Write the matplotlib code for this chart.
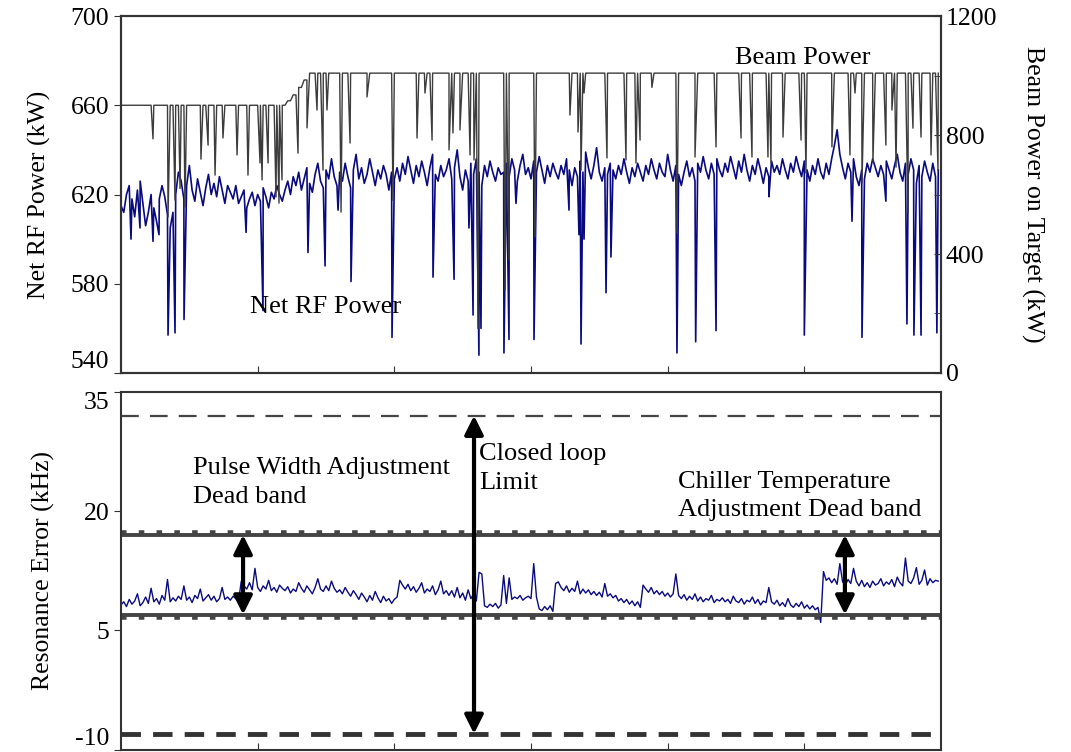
import numpy as np
import matplotlib
matplotlib.use('Agg')
import matplotlib.pyplot as plt

plt.rcParams['font.family'] = ['Liberation Serif', 'DejaVu Serif']
plt.rcParams['axes.unicode_minus'] = False

NAVY = '#0a0a80'
GREY = '#3c3c3c'
SPINE = '#333333'

# time grid (arbitrary units, 0.2 per sample)
t = np.arange(300) * 0.2

# net RF power baseline (kW), read row by row
rf_base = [
    615, 612, 620, 624, 618, 610, 622, 626, 616, 606, 612, 620, 614, 608, 618, 624, 619, 611, 605, 612,
    620, 630, 626, 618, 624, 633, 622, 617, 627, 621, 615, 623, 629, 620, 625, 619, 628, 622, 616, 624,
    621, 618, 624, 616, 619, 622, 614, 618, 621, 615, 620, 617, 623, 619, 614, 621, 618, 624, 620, 617,
    622, 626, 620, 628, 624, 630, 622, 627, 632, 625, 621, 629, 634, 626, 623, 631, 627, 636, 628, 624,
    630, 626, 634, 628, 623, 631, 638, 627, 632, 625, 629, 636, 630, 624, 631, 627, 633, 629, 622, 630,
    627, 632, 626, 634, 629, 637, 631, 625, 633, 628, 635, 630, 624, 632, 638, 629, 626, 633, 628, 631,
    636, 627, 632, 640, 628, 622, 631, 626, 634, 629, 636, 630, 624, 633, 628, 635, 630, 626, 632, 629,
    630, 634, 628, 636, 631, 626, 633, 638, 629, 632, 627, 635, 630, 637, 631, 625, 633, 628, 634, 630,
    627, 633, 629, 636, 631, 624, 632, 628, 635, 630, 639, 632, 627, 633, 641, 630, 626, 632, 629, 634,
    631, 627, 633, 629, 636, 630, 625, 632, 628, 634, 630, 626, 633, 629, 636, 631, 627, 634, 630, 628,
    638, 631, 626, 633, 629, 624, 630, 635, 628, 632, 626, 634, 630, 637, 631, 627, 634, 629, 636, 631,
    628, 634, 630, 637, 632, 627, 635, 630, 638, 631, 626, 633, 629, 636, 631, 625, 632, 628, 635, 630,
    633, 629, 636, 631, 627, 634, 630, 637, 632, 628, 635, 631, 626, 633, 629, 636, 630, 627, 634, 629,
    636, 642, 649, 638, 632, 627, 634, 630, 636, 628, 624, 631, 627, 634, 630, 636, 632, 628, 633, 629,
    635, 631, 627, 633, 638, 630, 626, 634, 629, 636, 631, 625, 633, 628, 635, 630, 626, 634, 628, 631,
]

# RF power drop-outs: time, value (kW)
rf_dip_t = [0.73, 1.39, 2.34, 2.78, 3.44, 3.95, 4.61, 9.15, 10.39, 13.68, 14.93, 15.88, 16.83,
            19.83, 22.83, 24.37, 25.46, 25.76, 26.19, 26.34, 28.02, 28.39, 28.9, 30.22, 32.78,
            33.51, 33.66, 33.88, 35.49, 35.85, 40.68, 42.05, 43.54, 47.41, 50.0, 53.49, 54.22,
            55.97, 57.51, 58.02, 58.54, 59.7]
rf_dip_v = [600, 605, 599, 602, 557, 558, 564, 603, 568, 594, 588, 613, 581,
            556, 583, 582, 605, 566, 548, 560, 549, 555, 616, 555, 613,
            602, 553, 600, 576, 592, 549, 554, 559, 619, 557, 608, 556,
            617, 562, 557, 557, 558]

# beam power on target: level changes and trips (kW)
beam_step_t = [0, 12.2, 12.6, 13.0, 13.4, 13.8]
beam_step_v = [900, 915, 935, 960, 985, 1008]
beam_dip_t = [2.34, 3.44, 3.95, 4.32, 4.68, 5.85, 6.37, 6.88, 7.46, 8.49, 9.29, 10.17, 10.32,
              10.76, 11.34, 11.56, 11.78, 12.95, 13.61, 14.34, 14.78, 15.07, 16.1, 16.76, 18.0,
              19.9, 21.66, 22.24, 22.76, 24.0, 24.29, 24.8, 25.54, 25.83, 26.12, 28.1, 28.39,
              30.29, 32.85, 33.44, 33.66, 33.88, 35.56, 36.95, 37.68, 37.98, 38.85, 40.68, 42.0,
              43.54, 45.37, 46.17, 47.34, 47.56, 48.44, 49.76, 50.12, 52.02, 53.34, 53.71, 54.22,
              55.02, 55.97, 56.41, 56.71, 57.59, 57.95, 58.54, 59.27, 59.78]
beam_dip_v = [787, 524, 581, 620, 558, 719, 766, 665, 790, 733, 665, 706, 649,
              706, 592, 571, 649, 739, 824, 884, 682, 884, 541, 773, 928,
              580, 790, 941, 783, 750, 807, 817, 733, 716, 150, 279, 380,
              457, 867, 810, 682, 941, 723, 716, 706, 783, 960, 471, 726,
              760, 790, 726, 726, 706, 793, 783, 672, 760, 733, 941, 639,
              709, 766, 884, 692, 538, 823, 793, 733, 682]

# resonance error (kHz)
res_err = [
    8.2, 8.6, 8.0, 8.9, 8.3, 8.7, 9.6, 8.1, 8.5, 9.2, 8.4, 10.3, 8.6, 9.0, 8.3, 9.4, 8.8, 11.4, 8.6, 9.1,
    8.7, 9.3, 8.9, 10.6, 8.8, 9.2, 8.5, 9.4, 9.0, 10.2, 8.7, 9.1, 9.5, 8.8, 9.3, 8.6, 9.0, 10.4, 8.9, 9.2,
    8.8, 9.3, 9.0, 8.7, 11.2, 10.6, 10.2, 11.0, 10.1, 12.8, 10.4, 9.9, 10.6, 10.2, 11.3, 10.0, 10.4, 9.8, 10.7, 10.3,
    10.0, 10.5, 9.7, 10.2, 9.9, 11.0, 10.3, 9.8, 10.6, 10.1, 9.6, 10.4, 11.5, 10.2, 9.9, 10.6, 10.0, 11.2, 10.3, 9.8,
    10.1, 9.6, 10.4, 9.8, 9.3, 10.0, 9.5, 8.9, 9.7, 9.2, 8.6, 9.4, 8.8, 9.9, 9.1, 8.5, 9.3, 8.7, 9.0, 8.4,
    8.9, 9.2, 11.3, 10.7, 10.2, 10.8, 10.0, 10.5, 9.8, 10.3, 11.0, 9.7, 10.2, 9.9, 10.6, 9.5, 10.1, 11.2, 9.6, 10.0,
    9.4, 10.0, 9.2, 10.4, 9.1, 9.7, 8.8, 10.1, 9.0, 9.6, 8.7, 12.3, 12.1, 8.1, 7.9, 8.3, 8.0, 8.4, 7.8, 8.2,
    11.9, 8.4, 11.6, 8.9, 9.2, 9.0, 9.4, 8.8, 9.1, 9.3, 9.0, 13.4, 9.2, 7.7, 7.5, 8.0, 7.6, 8.1, 7.4, 10.9,
    11.1, 10.4, 10.0, 10.6, 9.8, 10.3, 9.9, 11.2, 9.6, 10.2, 9.7, 10.1, 9.5, 9.9, 9.4, 9.8, 9.2, 10.9, 9.3, 9.6,
    9.1, 9.4, 8.7, 9.0, 8.5, 8.9, 8.3, 8.7, 8.1, 8.6, 7.9, 10.7, 10.2, 9.8, 10.4, 9.6, 10.0, 9.5, 9.9, 9.3,
    9.7, 9.2, 9.6, 12.1, 9.4, 9.0, 9.5, 8.8, 9.3, 8.9, 9.6, 8.7, 9.2, 8.6, 9.0, 8.8, 9.4, 8.5, 8.9, 8.7,
    9.1, 8.6, 8.9, 8.4, 9.3, 8.7, 8.5, 9.0, 8.3, 8.8, 8.6, 9.2, 8.4, 8.9, 8.2, 8.7, 8.5, 10.4, 8.6, 8.3,
    8.8, 8.1, 8.5, 8.0, 9.0, 8.2, 7.9, 8.4, 8.0, 8.6, 7.8, 8.2, 7.7, 8.1, 7.6, 7.9, 6.0, 12.4, 11.3, 11.6,
    11.0, 11.5, 10.8, 13.4, 11.1, 10.7, 11.4, 10.9, 12.8, 11.2, 10.6, 11.3, 10.5, 11.0, 10.4, 11.2, 10.7, 10.9, 11.5, 10.6,
    11.1, 10.8, 11.4, 10.5, 11.7, 11.0, 10.6, 14.1, 11.2, 10.9, 11.6, 12.9, 10.8, 11.3, 12.6, 10.7, 11.5, 11.0, 11.3, 11.2,
]

# control limits (kHz)
loop_limit = [32, -8]
dead_band = [17, 7]


def merge(base_t, base_v, ev_t, ev_v):
    tt = np.concatenate([base_t, ev_t])
    vv = np.concatenate([base_v, ev_v])
    order = np.argsort(tt, kind='stable')
    return tt[order], vv[order]


rf_t, rf_v = merge(t, np.array(rf_base, float), np.array(rf_dip_t), np.array(rf_dip_v, float))
beam_base = np.array(beam_step_v, float)[np.searchsorted(beam_step_t, t, side='right') - 1]
bm_t, bm_v = merge(t, beam_base, np.array(beam_dip_t), np.array(beam_dip_v, float))

fig = plt.figure(figsize=(10.71, 7.52), dpi=100)
ax1 = fig.add_axes([0.113, 0.504, 0.7656, 0.4747])
ax3 = fig.add_axes([0.113, 0.003, 0.7656, 0.476])

FS = 18.5
TS = 19

# ---- top panel
ax1.plot(rf_t, rf_v, color=NAVY, lw=1.2)
ax1.set_xlim(0, 60)
ax1.set_ylim(540, 700)
ax1.set_yticks([540, 580, 620, 660, 700])
ax1.set_ylabel('Net RF Power (kW)', fontsize=FS, labelpad=14)
ax1.text(9.44, 569.6, 'Net RF Power', fontsize=TS, va='center')

ax2 = ax1.twinx()
ax2.plot(bm_t, bm_v, color=GREY, lw=1.0)
ax2.set_ylim(0, 1200)
ax2.set_yticks([0, 400, 800, 1200])
ax2.set_yticks([200, 600, 1000], minor=True)
ax2.set_ylabel('Beam Power on Target (kW)', fontsize=FS, rotation=270, labelpad=34)
ax2.text(44.93, 1058, 'Beam Power', fontsize=TS, va='center')

# ---- bottom panel
ax3.plot(t, res_err, color=NAVY, lw=1.0)
ax3.set_xlim(0, 60)
ax3.set_ylim(-10, 35)
ax3.set_yticks([-10, 5, 20, 35])
ax3.set_ylabel('Resonance Error (kHz)', fontsize=FS, labelpad=14)

ax3.axhline(loop_limit[0], color='#444444', lw=1.6, dashes=(8, 5))
ax3.axhline(loop_limit[1], color='#333333', lw=3.5, dashes=(4, 2.5))
ax3.axhline(dead_band[0], color='#444444', lw=2.8)
ax3.axhline(dead_band[0] + 0.25, color='#444444', lw=4, dashes=(1, 2.2))
ax3.axhline(dead_band[1], color='#444444', lw=2.8)
ax3.axhline(dead_band[1] - 0.25, color='#444444', lw=4, dashes=(1, 2.2))

arr = dict(arrowstyle='<|-|>', lw=3, color='black', mutation_scale=28, shrinkA=0, shrinkB=0)
ax3.annotate('', xy=(8.93, dead_band[0]), xytext=(8.93, dead_band[1]), arrowprops=arr)
ax3.annotate('', xy=(25.83, loop_limit[0]), xytext=(25.83, loop_limit[1]), arrowprops=arr)
ax3.annotate('', xy=(52.97, dead_band[0]), xytext=(52.97, dead_band[1]), arrowprops=arr)

ax3.text(5.27, 26.8, 'Pulse Width Adjustment\nDead band', fontsize=TS, va='top', linespacing=1.4)
ax3.text(26.2, 28.6, 'Closed loop\nLimit', fontsize=TS, va='top', linespacing=1.4)
ax3.text(40.76, 25.1, 'Chiller Temperature\nAdjustment Dead band', fontsize=TS, va='top', linespacing=1.4)

for ax in (ax1, ax2, ax3):
    for s in ax.spines.values():
        s.set_color(SPINE)
        s.set_linewidth(1.5)
    ax.tick_params(labelsize=FS, colors='black')
for ax in (ax1, ax3):
    ax.set_xticks([10, 20, 30, 40, 50])
    ax.tick_params(axis='x', direction='in', length=5, labelbottom=False, color=SPINE)
    ax.tick_params(axis='y', direction='out', length=5, color=SPINE)
ax2.tick_params(axis='y', which='both', direction='in', length=5, color=SPINE)

# keep the edge labels of the two panels apart
ax1.get_yticklabels()[0].set_va('bottom')
ax3.get_yticklabels()[-1].set_va('top')
ax3.get_yticklabels()[0].set_va('bottom')

fig.savefig('out.png', dpi=100)
